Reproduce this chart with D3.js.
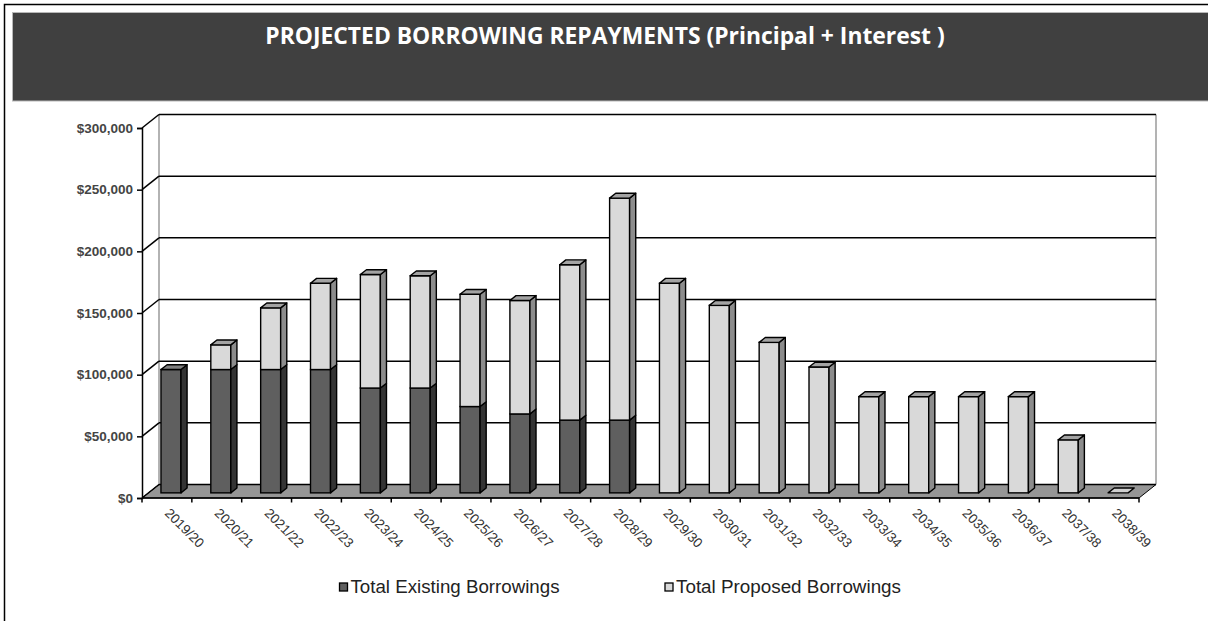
<!DOCTYPE html>
<html>
<head>
<meta charset="utf-8">
<script src="https://cdn.jsdelivr.net/npm/d3@7"></script>
<style>
  html, body { margin: 0; padding: 0; background: #fff; }
  svg { display: block; }
</style>
</head>
<body>
<svg id="chart" width="1208" height="621"></svg>
<script>
const title = "PROJECTED BORROWING REPAYMENTS (Principal + Interest )";
const categories = ["2019/20","2020/21","2021/22","2022/23","2023/24","2024/25","2025/26","2026/27","2027/28","2028/29",
                    "2029/30","2030/31","2031/32","2032/33","2033/34","2034/35","2035/36","2036/37","2037/38","2038/39"];
const existing = [100000,100000,100000,100000,85000,85000,70000,64000,59000,59000,0,0,0,0,0,0,0,0,0,0];
const proposed = [0,20000,50000,70000,92000,91000,91000,92000,126000,180000,170000,152000,122000,102000,78000,78000,78000,78000,43000,0];
const yTicks = [0,50000,100000,150000,200000,250000,300000];
const seriesNames = ["Total Existing Borrowings","Total Proposed Borrowings"];

const svg = d3.select("#chart");
const W = 1208, H = 621;

// outer frame
svg.append("path").attr("d", `M4.5,${H} V4.5 H${W}`).attr("fill","none").attr("stroke","#000").attr("stroke-width",1.5);

// title band
svg.append("rect").attr("x",12.5).attr("y",12.5).attr("width",W).attr("height",88.5)
  .attr("fill","#404040").attr("stroke","#b8b8b8").attr("stroke-width",1);
const t = svg.append("text").attr("x",605).attr("y",43.5).attr("text-anchor","middle")
  .attr("font-family","'Open Sans', 'Liberation Sans', Arial, sans-serif").attr("font-weight","bold")
  .attr("font-size",22).attr("fill","#fff").text(title);
const tl = t.node().getComputedTextLength();
t.attr("font-size", 22 * 680 / tl);

// scales
const x = d3.scaleBand().domain(categories).range([142, 1139]).padding(0);
const y = d3.scaleLinear().domain([0, 300000]).range([498, 128]);
const DX = 17, DY = -13.5;
const xL = x.range()[0], xR = x.range()[1];

// back wall
svg.append("rect").attr("x", xL+DX).attr("y", y(300000)+DY).attr("width", xR-xL).attr("height", y(0)-y(300000)).attr("fill","#fff");
svg.append("line").attr("x1",xL+DX).attr("x2",xL+DX).attr("y1",y(300000)+DY).attr("y2",y(0)+DY).attr("stroke","#9a9a9a").attr("stroke-width",1.5);
svg.append("line").attr("x1",xR+DX).attr("x2",xR+DX).attr("y1",y(300000)+DY).attr("y2",y(0)+DY).attr("stroke","#9a9a9a").attr("stroke-width",1.5);

// floor
svg.append("path")
  .attr("d", `M${xL},${y(0)} L${xR},${y(0)} L${xR+DX},${y(0)+DY} L${xL+DX},${y(0)+DY} Z`)
  .attr("fill","#969696").attr("stroke","#000").attr("stroke-width",1);

// gridlines on back wall and left wall
const grid = svg.append("g");
yTicks.forEach(v => {
  grid.append("line").attr("x1", xL+DX).attr("x2", xR+DX).attr("y1", y(v)+DY).attr("y2", y(v)+DY)
    .attr("stroke","#000").attr("stroke-width", 1.5);
  grid.append("line").attr("x1", xL).attr("x2", xL+DX).attr("y1", y(v)).attr("y2", y(v)+DY)
    .attr("stroke","#000").attr("stroke-width", 1.5);
});

// y axis
const yAxis = d3.axisLeft(y).tickValues(yTicks).tickSize(5).tickPadding(5)
  .tickFormat(d => "$" + d3.format(",")(d));
const ya = svg.append("g").attr("transform", `translate(${xL},0)`).call(yAxis);
ya.select(".domain").attr("stroke","#000").attr("stroke-width",1.5);
ya.selectAll(".tick line").attr("stroke","#000").attr("stroke-width",1.5);
ya.selectAll(".tick text").attr("font-family","'Liberation Sans', Arial, sans-serif")
  .attr("font-size",13.5).attr("font-weight","bold").attr("fill","#444").attr("x",-9);

// x axis
const xa = svg.append("g").attr("transform", `translate(0,${y(0)})`);
xa.append("line").attr("x1", xL).attr("x2", xR).attr("y1",0).attr("y2",0).attr("stroke","#000").attr("stroke-width",1.5);
const bounds = categories.map(c => x(c)).concat([xR]);
xa.selectAll("line.tk").data(bounds).join("line").attr("class","tk")
  .attr("x1", d => d).attr("x2", d => d).attr("y1", 0).attr("y2", 4.5).attr("stroke","#000").attr("stroke-width",1.5);
xa.selectAll("text").data(categories).join("text")
  .attr("transform", d => `translate(${x(d) + 22},${16}) rotate(45)`)
  .attr("font-family","'Liberation Sans', Arial, sans-serif").attr("font-size",13.5).attr("fill","#333")
  .text(d => d);

// 3D bars
const F1 = 0.38, F2 = 0.74, BW = 20, OFF = 12.5;
const colors = {
  existing: {front:"#5f5f5f", side:"#343434", top:"#7f7f7f"},
  proposed: {front:"#d9d9d9", side:"#8c8c8c", top:"#a3a3a3"}
};
const bars = svg.append("g");
categories.forEach((c, i) => {
  const fx = x(c) + OFF + F1*DX;
  const sy = F1*DY;
  const ddx = (F2-F1)*DX, ddy = (F2-F1)*DY;
  const segs = [
    {v0: 0, v1: existing[i], col: colors.existing},
    {v0: existing[i], v1: existing[i] + proposed[i], col: colors.proposed}
  ].filter(s => s.v1 > s.v0);
  const g = bars.append("g");
  segs.forEach(s => {
    const yt = y(s.v1) + sy, yb = y(s.v0) + sy;
    g.append("rect").attr("x", fx).attr("y", yt).attr("width", BW).attr("height", yb - yt)
      .attr("fill", s.col.front).attr("stroke","#000").attr("stroke-width",1.4);
    g.append("path").attr("d", `M${fx+BW},${yt} L${fx+BW+ddx},${yt+ddy} L${fx+BW+ddx},${yb+ddy} L${fx+BW},${yb} Z`)
      .attr("fill", s.col.side).attr("stroke","#000").attr("stroke-width",1.4).attr("stroke-linejoin","round");
  });
  const total = existing[i] + proposed[i];
  const topCol = segs.length ? segs[segs.length-1].col.top : "#cfcfcf";
  const yt = y(total) + sy;
  g.append("path").attr("d", `M${fx},${yt} L${fx+BW},${yt} L${fx+BW+ddx},${yt+ddy} L${fx+ddx},${yt+ddy} Z`)
    .attr("fill", topCol).attr("stroke","#000").attr("stroke-width",1.4).attr("stroke-linejoin","round");
});

// legend
const legend = svg.append("g");
const legX = [339.5, 665];
const legLen = [209, 225];
[colors.existing.front, colors.proposed.front].forEach((col, i) => {
  legend.append("rect").attr("x", legX[i]).attr("y", 583).attr("width", 8).attr("height", 8)
    .attr("fill", col).attr("stroke","#000").attr("stroke-width",1.3);
  legend.append("text").attr("x", legX[i] + 11).attr("y", 592.5)
    .attr("font-family","'Liberation Sans', Arial, sans-serif").attr("font-size",17.5).attr("fill","#222")
    .attr("textLength", legLen[i]).attr("lengthAdjust","spacingAndGlyphs")
    .text(seriesNames[i]);
});
</script>
</body>
</html>
